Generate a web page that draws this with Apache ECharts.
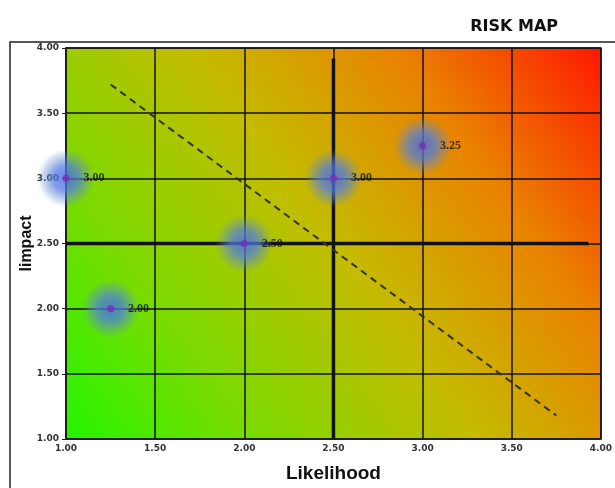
<!DOCTYPE html>
<html><head><meta charset="utf-8">
<script src="https://cdn.jsdelivr.net/npm/echarts@6/dist/echarts.min.js"></script>
<style>html,body{margin:0;padding:0;background:#fff}#c{width:615px;height:488px}</style>
</head><body><div id="c"></div>
<script>
const likelihood = [1.00, 1.25, 2.00, 2.50, 3.00];
const impact = [3.00, 2.00, 2.50, 3.00, 3.25];
const pointLabels = ['3.00', '2.00', '2.50', '3.00', '3.25'];
const trendLine = [[1.25, 3.72], [3.75, 1.18]];
const vLine = [[2.5, 1.0], [2.5, 3.92]];
const hLine = [[1.0, 2.5], [3.93, 2.5]];

const pts = likelihood.map((x, i) => [x, impact[i], pointLabels[i]]);
const chart = echarts.init(document.getElementById('c'));
const axisLabel = {fontSize: 9, fontWeight: 'bold', color: '#333', fontFamily: 'DejaVu Sans', formatter: v => v.toFixed(2)};
chart.setOption({
  animation: false,
  title: {text: 'RISK MAP', right: 52, top: 14, textStyle: {fontSize: 16, fontWeight: 'bold', color: '#111', fontFamily: 'DejaVu Sans'}},
  graphic: [{type: 'rect', shape: {x: 10, y: 42, width: 640, height: 500}, style: {fill: 'none', stroke: '#222', lineWidth: 1.5}, z: -10}],
  grid: {left: 66, right: 14, top: 48, bottom: 46, show: true, borderWidth: 1.5, borderColor: '#222',
    backgroundColor: new echarts.graphic.LinearGradient(0, 1, 1, 0, [
      {offset: 0, color: '#22f500'}, {offset: 0.22, color: '#78dc00'}, {offset: 0.5, color: '#c4bc00'},
      {offset: 0.75, color: '#ea8200'}, {offset: 1, color: '#ff1800'}])},
  xAxis: {type: 'value', min: 1, max: 4, interval: 0.5, name: 'Likelihood', nameLocation: 'middle', nameGap: 25,
    nameTextStyle: {fontSize: 19, fontWeight: 'bold', color: '#111', fontFamily: 'Arial, Liberation Sans'},
    axisLine: {lineStyle: {color: '#222', width: 1.5}}, axisTick: {show: false},
    axisLabel: Object.assign({margin: 5}, axisLabel),
    splitLine: {lineStyle: {color: '#111', width: 1.5}}},
  yAxis: {type: 'value', min: 1, max: 4, interval: 0.5, name: 'Iimpact', nameLocation: 'middle', nameGap: 31,
    nameMoveOverlap: false,
    nameTextStyle: {fontSize: 16, fontWeight: 'bold', color: '#111', fontFamily: 'Arial, Liberation Sans'},
    axisLine: {lineStyle: {color: '#222', width: 1.5}}, axisTick: {show: true, length: 4, lineStyle: {color: '#222'}},
    axisLabel: Object.assign({margin: 7}, axisLabel),
    splitLine: {lineStyle: {color: '#111', width: 1.5}}},
  series: [
    {type: 'line', data: vLine, symbol: 'none', lineStyle: {color: '#111', width: 3.5}, silent: true},
    {type: 'line', data: hLine, symbol: 'none', lineStyle: {color: '#111', width: 3.5}, silent: true},
    {type: 'line', data: trendLine, symbol: 'none', lineStyle: {color: '#333', width: 2, type: [7, 5]}, silent: true},
    {type: 'scatter', data: pts, symbolSize: 58, z: 3,
      itemStyle: {color: new echarts.graphic.RadialGradient(0.5, 0.5, 0.5, [
        {offset: 0, color: 'rgba(70,100,235,1)'}, {offset: 0.45, color: 'rgba(80,125,225,0.9)'},
        {offset: 0.75, color: 'rgba(95,135,210,0.45)'}, {offset: 1, color: 'rgba(100,140,210,0)'}])}},
    {type: 'scatter', data: pts, symbolSize: 7, z: 4, itemStyle: {color: '#7a2fb0'},
      label: {show: true, position: 'right', distance: 14, formatter: p => p.data[2], fontSize: 12, fontWeight: 'bold', color: '#111', fontFamily: 'Liberation Serif, serif'}}
  ]
});
</script></body></html>
